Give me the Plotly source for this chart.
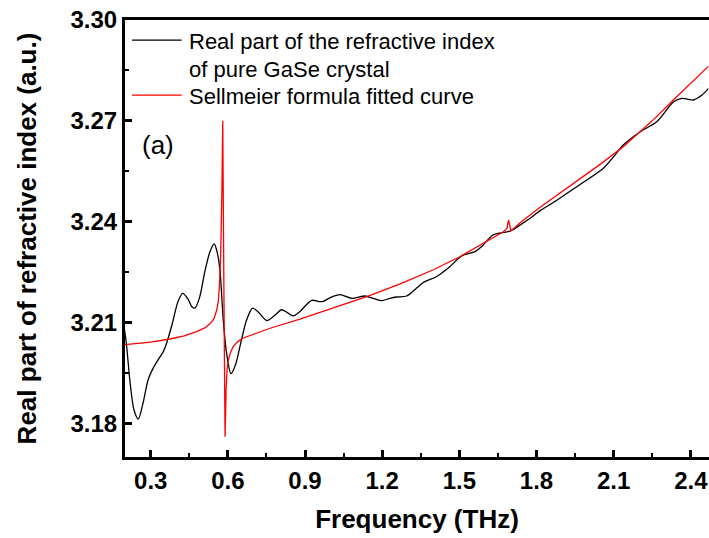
import plotly.graph_objects as go

# Real part of the refractive index of pure GaSe (measured)
freq_meas = [0.196, 0.205, 0.220, 0.235, 0.252, 0.270, 0.290, 0.310, 0.336, 0.350,
             0.362, 0.385, 0.405, 0.424, 0.445, 0.460, 0.472, 0.490, 0.510, 0.530,
             0.547, 0.558, 0.569, 0.582, 0.595, 0.612, 0.630, 0.647, 0.673, 0.696,
             0.720, 0.751, 0.780, 0.809, 0.830, 0.854, 0.880, 0.926, 0.958, 0.971,
             1.000, 1.036, 1.081, 1.133, 1.165, 1.198, 1.230, 1.256, 1.295, 1.330,
             1.360, 1.412, 1.457, 1.509, 1.561, 1.587, 1.632, 1.697, 1.740, 1.775,
             1.814, 1.865, 1.956, 2.060, 2.105, 2.137, 2.202, 2.267, 2.332, 2.364,
             2.390, 2.410, 2.442, 2.468]
n_meas = [3.2088, 3.2040, 3.1920, 3.1840, 3.1813, 3.1860, 3.1930, 3.1965, 3.1998, 3.2015,
          3.2039, 3.2100, 3.2160, 3.2187, 3.2170, 3.2147, 3.2143, 3.2175, 3.2250, 3.2310,
          3.2334, 3.2310, 3.2257, 3.2108, 3.2009, 3.1948, 3.1975, 3.2029, 3.2108, 3.2143,
          3.2130, 3.2106, 3.2120, 3.2138, 3.2130, 3.2120, 3.2133, 3.2166, 3.2162, 3.2163,
          3.2175, 3.2183, 3.2172, 3.2179, 3.2172, 3.2165, 3.2172, 3.2176, 3.2179, 3.2200,
          3.2219, 3.2237, 3.2262, 3.2298, 3.2311, 3.2326, 3.2361, 3.2372, 3.2392, 3.2410,
          3.2433, 3.2457, 3.2504, 3.2559, 3.2598, 3.2628, 3.2667, 3.2697, 3.2756, 3.2767,
          3.2764, 3.2762, 3.2776, 3.2796]

# Sellmeier fitted curve
freq_fit = [0.196, 0.300, 0.375, 0.430, 0.479, 0.510, 0.530, 0.545, 0.557, 0.563,
            0.567, 0.572, 0.577, 0.580, 0.5845, 0.589, 0.593, 0.597, 0.602, 0.610,
            0.621, 0.640, 0.660, 0.700, 0.764, 0.880, 0.958, 1.050, 1.140, 1.270,
            1.399, 1.500, 1.606, 1.671, 1.685, 1.691, 1.696, 1.700, 1.715, 1.736,
            1.814, 1.950, 2.050, 2.137, 2.250, 2.332, 2.468]
n_fit = [3.2034, 3.2042, 3.2051, 3.2060, 3.2073, 3.2084, 3.2096, 3.2110, 3.2138, 3.2165,
         3.2207, 3.2300, 3.2500, 3.2700, 3.2200, 3.1760, 3.1900, 3.1960, 3.1989, 3.2010,
         3.2029, 3.2044, 3.2054, 3.2066, 3.2083, 3.2110, 3.2130, 3.2152, 3.2177, 3.2215,
         3.2257, 3.2295, 3.2341, 3.2370, 3.2380, 3.2405, 3.2390, 3.2373, 3.2382, 3.2397,
         3.2443, 3.2517, 3.2572, 3.2623, 3.2700, 3.2762, 3.2862]

x_ticks = [0.3, 0.6, 0.9, 1.2, 1.5, 1.8, 2.1, 2.4]
y_ticks = [3.18, 3.21, 3.24, 3.27, 3.30]

legend_lines = [["Real part of the refractive index", "of pure GaSe crystal"],
                ["Sellmeier formula fitted curve"]]
legend_colors = ["#000000", "#ff0000"]

FONT = "Liberation Sans, Arial, sans-serif"

fig = go.Figure()
fig.add_trace(go.Scatter(x=freq_meas, y=n_meas, mode="lines",
                         line=dict(color=legend_colors[0], width=1.3, shape="spline", smoothing=0.8),
                         showlegend=False))
fig.add_trace(go.Scatter(x=freq_fit, y=n_fit, mode="lines",
                         line=dict(color=legend_colors[1], width=1.3),
                         showlegend=False))

# legend entries: sample line + text rows (paper coordinates)
row_y = [0.950, 0.886, 0.824]
row = 0
for lines, color in zip(legend_lines, legend_colors):
    fig.add_shape(type="line", xref="paper", yref="paper",
                  x0=0.012, x1=0.097, y0=row_y[row] + 0.004, y1=row_y[row] + 0.004,
                  line=dict(color=color, width=1.3))
    for text in lines:
        fig.add_annotation(xref="paper", yref="paper", x=0.107, y=row_y[row],
                           text=text, showarrow=False, xanchor="left", yanchor="middle",
                           align="left", font=dict(family=FONT, size=22, color="#000"))
        row += 1

fig.add_annotation(xref="paper", yref="paper", x=0.026, y=0.714,
                   text="(a)", showarrow=False, xanchor="left", yanchor="middle",
                   font=dict(family=FONT, size=26, color="#000"))

fig.update_layout(
    width=709, height=538,
    margin=dict(l=125, r=0, t=20, b=81),
    paper_bgcolor="white", plot_bgcolor="white",
    font=dict(family=FONT, color="#000"),
    xaxis=dict(
        range=[0.2, 2.4706], tickvals=x_ticks, ticktext=[f"{v:.1f}" for v in x_ticks],
        ticks="inside", ticklen=7, tickwidth=2.5, tickcolor="#000",
        minor=dict(ticks="inside", ticklen=4, tickwidth=2, tickcolor="#000", dtick=0.15, tick0=0.15),
        showline=True, linewidth=3, linecolor="#000", mirror=True,
        showgrid=False, zeroline=False,
        tickfont=dict(family=FONT, size=24, weight="bold"),
        title=dict(text="Frequency (THz)", font=dict(family=FONT, size=26, weight="bold"), standoff=18),
    ),
    yaxis=dict(
        range=[3.17, 3.30], tickvals=y_ticks, ticktext=[f"{v:.2f}" for v in y_ticks],
        ticks="inside", ticklen=7, tickwidth=2.5, tickcolor="#000",
        minor=dict(ticks="inside", ticklen=4, tickwidth=2, tickcolor="#000", dtick=0.015, tick0=3.165),
        showline=True, linewidth=3, linecolor="#000", mirror=False,
        showgrid=False, zeroline=False,
        tickfont=dict(family=FONT, size=24, weight="bold"),
        title=dict(text="Real part of refractive index (a.u.)",
                   font=dict(family=FONT, size=26, weight="bold"), standoff=27),
    ),
)

fig.write_html("out.html")
